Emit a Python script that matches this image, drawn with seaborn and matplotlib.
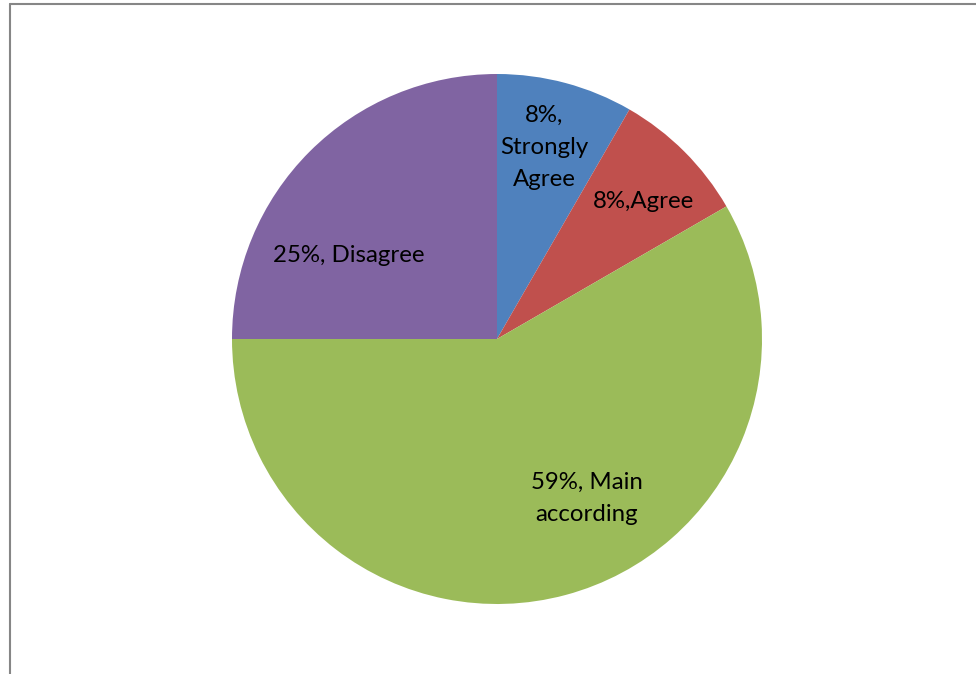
import matplotlib
matplotlib.use("Agg")
import matplotlib.pyplot as plt
import seaborn as sns
from matplotlib.lines import Line2D

# Data
categories = ["Strongly Agree", "Agree", "Main according", "Disagree"]
shares = [8.33, 8.33, 58.34, 25.0]
label_texts = ["8%,\nStrongly\nAgree", "8%,Agree", "59%, Main\naccording", "25%, Disagree"]
colors = ["#4F81BD", "#C0504D", "#9BBB59", "#8064A2"]

sns.set_theme(style="white")
plt.rcParams['font.family'] = ['Lato', 'DejaVu Sans']

W, H = 976, 674
fig = plt.figure(figsize=(W / 100, H / 100), dpi=100)
fig.patch.set_facecolor("white")
ax = fig.add_axes([0, 0, 1, 1])

cx, cy, r = 497, H - 339, 265
ax.pie(shares, colors=colors, startangle=90, counterclock=False,
       center=(cx, cy), radius=r, frame=True,
       wedgeprops=dict(linewidth=0))
ax.set_xlim(0, W)
ax.set_ylim(0, H)
ax.set_aspect("equal")
ax.axis("off")

# label positions (pixel coordinates in the reference, y from top)
label_pos = [(544, 147), (643, 201), (587, 498), (349, 255)]
for txt, (x, y) in zip(label_texts, label_pos):
    ax.text(x, H - y, txt, ha="center", va="center", fontsize=17.3,
            color="black", linespacing=1.65)

# outer frame (left and top borders visible)
fig.add_artist(Line2D([10 / W, 10 / W], [0, 1 - 3.5 / H], transform=fig.transFigure,
                      color="#868686", linewidth=1.5))
fig.add_artist(Line2D([10 / W, 1], [1 - 3.5 / H, 1 - 3.5 / H], transform=fig.transFigure,
                      color="#868686", linewidth=1.5))

fig.savefig("out.png", dpi=100, facecolor="white")
